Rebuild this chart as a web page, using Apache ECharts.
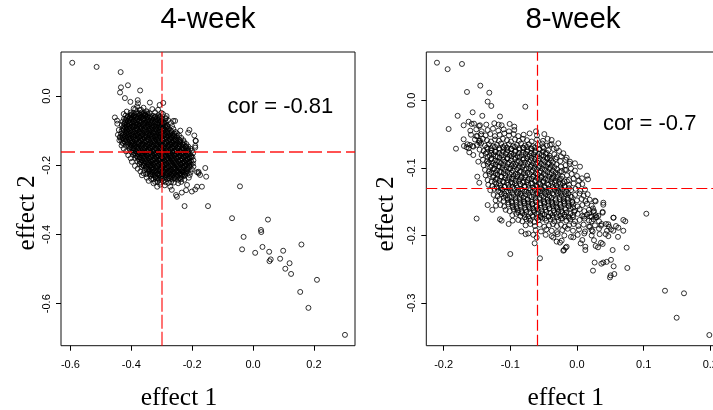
<!DOCTYPE html>
<html>
<head>
<meta charset="utf-8">
<script src="https://cdn.jsdelivr.net/npm/echarts@6/dist/echarts.min.js"></script>
<style>
  html, body { margin: 0; padding: 0; background: #fff; }
  #chart { width: 713px; height: 410px; }
</style>
</head>
<body>
<div id="chart"></div>
<script>
// Panel titles and annotation texts
const panelTitles = ['4-week', '8-week'];
const corLabels = ['cor = -0.81', 'cor = -0.7'];
const corPos4 = [0.09, -0.031];
const corPos8 = [0.109, -0.035];

// Tick values
const xTicks4 = [-0.6, -0.4, -0.2, 0, 0.2];
const yTicks4 = [-0.6, -0.4, -0.2, 0];
const xTicks8 = [-0.2, -0.1, 0, 0.1, 0.2];
const yTicks8 = [-0.3, -0.2, -0.1, 0];

// Mean of each effect (dashed reference lines)
const mean4 = { effect1: -0.303, effect2: -0.1635 };
const mean8 = { effect1: -0.0625, effect2: -0.128 };

// 4-week estimates: [effect 1, effect 2]
const week4Points = [
  // spread-out points
  [-.594,.096],[-.514,.084],[-.435,.069],[-.434,.025],[-.411,.031],[-.437,.010],[-.371,.016],[-.421,-.006],
  [-.403,-.017],[-.379,-.012],[-.378,-.021],[-.387,-.038],[-.368,-.040],[-.339,-.019],[-.307,-.026],[-.295,-.020],
  [-.355,-.053],[-.364,-.059],[-.454,-.062],[-.447,-.071],[-.402,-.056],[-.288,-.066],[-.262,-.072],[-.209,-.098],
  [-.189,-.129],[-.190,-.149],[-.437,-.120],[-.430,-.135],[-.204,-.173],[-.286,-.064],[-.256,-.072],[-.239,-.100],
  [-.043,-.261],[-.225,-.318],[-.148,-.318],[-.069,-.353],[.049,-.357],[.026,-.387],[.027,-.393],[-.031,-.407],
  [-.036,-.443],[.007,-.453],[.031,-.436],[.053,-.450],[.099,-.447],[.159,-.429],[.054,-.477],[.058,-.472],
  [.089,-.470],[.120,-.483],[.106,-.499],[.125,-.514],[.210,-.531],[.155,-.566],[.182,-.612],[.302,-.690],
  // edge of the cloud
  [-.446,-.080],[-.441,-.098],[-.444,-.112],[-.439,-.128],[-.432,-.143],[-.425,-.152],[-.417,-.160],[-.410,-.171],
  [-.402,-.180],[-.398,-.190],[-.392,-.036],[-.381,-.030],[-.372,-.041],[-.360,-.034],[-.350,-.044],[-.331,-.038],
  [-.322,-.047],[-.312,-.040],[-.301,-.049],[-.415,-.045],[-.425,-.052],[-.296,-.052],[-.284,-.058],[-.279,-.070],
  [-.270,-.078],[-.266,-.087],[-.262,-.095],[-.255,-.104],[-.250,-.108],[-.243,-.114],[-.236,-.121],[-.229,-.128],
  [-.226,-.134],[-.219,-.139],[-.213,-.146],[-.206,-.152],[-.201,-.158],[-.197,-.165],[-.199,-.176],[-.196,-.186],
  [-.198,-.195],[-.196,-.204],[-.201,-.212],[-.205,-.220],[-.360,-.223],[-.351,-.226],[-.338,-.226],[-.322,-.248],
  [-.334,-.240],[-.305,-.256],[-.290,-.258],[-.272,-.262],[-.267,-.271],[-.253,-.286],[-.250,-.291],[-.234,-.279],
  [-.220,-.272],[-.201,-.276],[-.190,-.270],[-.168,-.262],[-.184,-.262],[-.217,-.257],[-.236,-.248],[-.246,-.252],
  [-.226,-.242],[-.211,-.236],[-.208,-.228],[-.184,-.220],[-.179,-.223],[-.154,-.233],[-.157,-.208],[-.174,-.228],
  [-.179,-.219],[-.188,-.130],[-.190,-.144],[-.193,-.114],[-.213,-.106],[-.388,-.202],[-.379,-.210],[-.370,-.218],
  [-.365,-.229],[-.349,-.236],[-.343,-.245],[-.327,-.252],[-.315,-.262],
  // dense centre
  [-.402,-.048],[-.393,-.050],[-.384,-.047],[-.375,-.050],[-.366,-.048],[-.357,-.050],[-.348,-.047],[-.340,-.050],
  [-.419,-.057],[-.410,-.059],[-.401,-.056],[-.392,-.058],[-.383,-.059],[-.374,-.057],[-.365,-.059],[-.356,-.056],
  [-.347,-.058],[-.338,-.059],[-.329,-.057],[-.320,-.059],[-.311,-.056],[-.306,-.059],
  [-.424,-.066],[-.415,-.065],[-.406,-.067],[-.397,-.065],[-.388,-.068],[-.379,-.066],[-.370,-.064],[-.361,-.067],
  [-.352,-.065],[-.343,-.068],[-.334,-.066],[-.325,-.064],[-.316,-.067],[-.307,-.065],[-.298,-.067],
  [-.428,-.074],[-.420,-.076],[-.411,-.073],[-.402,-.076],[-.393,-.074],[-.384,-.076],[-.375,-.073],[-.366,-.075],
  [-.357,-.077],[-.348,-.074],[-.339,-.076],[-.330,-.073],[-.321,-.075],[-.312,-.077],[-.303,-.074],[-.294,-.076],[-.288,-.073],
  [-.431,-.084],[-.423,-.082],[-.414,-.085],[-.405,-.083],[-.396,-.086],[-.387,-.084],[-.378,-.082],[-.369,-.085],
  [-.360,-.083],[-.351,-.085],[-.342,-.082],[-.333,-.084],[-.324,-.086],[-.315,-.083],[-.306,-.085],[-.297,-.082],
  [-.288,-.084],[-.281,-.086],
  [-.429,-.093],[-.420,-.091],[-.411,-.094],[-.402,-.092],[-.393,-.090],[-.384,-.093],[-.375,-.091],[-.366,-.094],
  [-.357,-.092],[-.348,-.090],[-.339,-.093],[-.330,-.091],[-.321,-.094],[-.312,-.092],[-.303,-.090],[-.294,-.093],
  [-.285,-.091],[-.277,-.094],
  [-.432,-.101],[-.424,-.099],[-.415,-.102],[-.406,-.100],[-.397,-.103],[-.388,-.101],[-.379,-.099],[-.370,-.102],
  [-.361,-.100],[-.352,-.103],[-.343,-.101],[-.334,-.099],[-.325,-.102],[-.316,-.100],[-.307,-.103],[-.298,-.101],
  [-.289,-.099],[-.280,-.102],[-.271,-.100],
  [-.434,-.109],[-.426,-.111],[-.417,-.108],[-.408,-.110],[-.399,-.112],[-.390,-.109],[-.381,-.111],[-.372,-.108],
  [-.363,-.110],[-.354,-.112],[-.345,-.109],[-.336,-.111],[-.327,-.108],[-.318,-.110],[-.309,-.112],[-.300,-.109],
  [-.291,-.111],[-.282,-.108],[-.273,-.110],[-.264,-.112],[-.259,-.109],
  [-.437,-.118],[-.429,-.120],[-.420,-.117],[-.411,-.119],[-.402,-.121],[-.393,-.118],[-.384,-.116],[-.375,-.119],
  [-.366,-.117],[-.357,-.120],[-.348,-.118],[-.339,-.116],[-.330,-.119],[-.321,-.117],[-.312,-.120],[-.303,-.118],
  [-.294,-.116],[-.285,-.119],[-.276,-.117],[-.267,-.120],[-.258,-.118],[-.250,-.116],
  [-.433,-.127],[-.424,-.125],[-.415,-.128],[-.406,-.126],[-.397,-.129],[-.388,-.127],[-.379,-.125],[-.370,-.128],
  [-.361,-.126],[-.352,-.129],[-.343,-.127],[-.334,-.125],[-.325,-.128],[-.316,-.126],[-.307,-.129],[-.298,-.127],
  [-.289,-.125],[-.280,-.128],[-.271,-.126],[-.262,-.129],[-.253,-.127],[-.244,-.125],[-.239,-.128],
  [-.427,-.136],[-.419,-.134],[-.410,-.137],[-.401,-.135],[-.392,-.138],[-.383,-.136],[-.374,-.134],[-.365,-.137],
  [-.356,-.135],[-.347,-.138],[-.338,-.136],[-.329,-.134],[-.320,-.137],[-.311,-.135],[-.302,-.138],[-.293,-.136],
  [-.284,-.134],[-.275,-.137],[-.266,-.135],[-.257,-.138],[-.248,-.136],[-.239,-.134],[-.231,-.137],
  [-.417,-.144],[-.408,-.146],[-.399,-.143],[-.390,-.145],[-.381,-.147],[-.372,-.144],[-.363,-.142],[-.354,-.145],
  [-.345,-.143],[-.336,-.146],[-.327,-.144],[-.318,-.142],[-.309,-.145],[-.300,-.143],[-.291,-.146],[-.282,-.144],
  [-.273,-.142],[-.264,-.145],[-.255,-.143],[-.246,-.146],[-.237,-.144],[-.228,-.142],[-.221,-.145],
  [-.406,-.153],[-.398,-.151],[-.389,-.154],[-.380,-.152],[-.371,-.155],[-.362,-.153],[-.353,-.151],[-.344,-.154],
  [-.335,-.152],[-.326,-.155],[-.317,-.153],[-.308,-.151],[-.299,-.154],[-.290,-.152],[-.281,-.155],[-.272,-.153],
  [-.263,-.151],[-.254,-.154],[-.245,-.152],[-.236,-.155],[-.227,-.153],[-.218,-.151],[-.213,-.154],
  [-.400,-.162],[-.392,-.164],[-.383,-.161],[-.374,-.163],[-.365,-.165],[-.356,-.162],[-.347,-.160],[-.338,-.163],
  [-.329,-.161],[-.320,-.164],[-.311,-.162],[-.302,-.160],[-.293,-.163],[-.284,-.161],[-.275,-.164],[-.266,-.162],
  [-.257,-.160],[-.248,-.163],[-.239,-.161],[-.230,-.164],[-.221,-.162],[-.212,-.160],
  [-.394,-.170],[-.386,-.172],[-.377,-.169],[-.368,-.171],[-.359,-.173],[-.350,-.170],[-.341,-.168],[-.332,-.171],
  [-.323,-.169],[-.314,-.172],[-.305,-.170],[-.296,-.168],[-.287,-.171],[-.278,-.169],[-.269,-.172],[-.260,-.170],
  [-.251,-.168],[-.242,-.171],[-.233,-.169],[-.224,-.172],[-.215,-.170],[-.207,-.168],
  [-.387,-.179],[-.379,-.177],[-.370,-.180],[-.361,-.178],[-.352,-.181],[-.343,-.179],[-.334,-.177],[-.325,-.180],
  [-.316,-.178],[-.307,-.181],[-.298,-.179],[-.289,-.177],[-.280,-.180],[-.271,-.178],[-.262,-.181],[-.253,-.179],
  [-.244,-.177],[-.235,-.180],[-.226,-.178],[-.217,-.181],[-.208,-.179],[-.203,-.177],
  [-.380,-.188],[-.372,-.190],[-.363,-.187],[-.354,-.189],[-.345,-.191],[-.336,-.188],[-.327,-.186],[-.318,-.189],
  [-.309,-.187],[-.300,-.190],[-.291,-.188],[-.282,-.186],[-.273,-.189],[-.264,-.187],[-.255,-.190],[-.246,-.188],
  [-.237,-.186],[-.228,-.189],[-.219,-.187],[-.210,-.190],[-.204,-.188],
  [-.373,-.196],[-.365,-.198],[-.356,-.195],[-.347,-.197],[-.338,-.199],[-.329,-.196],[-.320,-.194],[-.311,-.197],
  [-.302,-.195],[-.293,-.198],[-.284,-.196],[-.275,-.194],[-.266,-.197],[-.257,-.195],[-.248,-.198],[-.239,-.196],
  [-.230,-.194],[-.221,-.197],[-.212,-.195],[-.204,-.198],
  [-.367,-.205],[-.359,-.203],[-.350,-.206],[-.341,-.204],[-.332,-.207],[-.323,-.205],[-.314,-.203],[-.305,-.206],
  [-.296,-.204],[-.287,-.207],[-.278,-.205],[-.269,-.203],[-.260,-.206],[-.251,-.204],[-.242,-.207],[-.233,-.205],
  [-.224,-.203],[-.215,-.206],[-.207,-.204],
  [-.357,-.214],[-.349,-.212],[-.340,-.215],[-.331,-.213],[-.322,-.216],[-.313,-.214],[-.304,-.212],[-.295,-.215],
  [-.286,-.213],[-.277,-.216],[-.268,-.214],[-.259,-.212],[-.250,-.215],[-.241,-.213],[-.232,-.216],[-.223,-.214],[-.214,-.212],
  [-.347,-.222],[-.339,-.224],[-.330,-.221],[-.321,-.223],[-.312,-.225],[-.303,-.222],[-.294,-.220],[-.285,-.223],
  [-.276,-.221],[-.267,-.224],[-.258,-.222],[-.249,-.220],[-.240,-.223],[-.231,-.221],[-.222,-.224],[-.215,-.222],
  [-.337,-.231],[-.329,-.229],[-.320,-.232],[-.311,-.230],[-.302,-.233],[-.293,-.231],[-.284,-.229],[-.275,-.232],
  [-.266,-.230],[-.257,-.233],[-.248,-.231],[-.239,-.229],[-.230,-.232],[-.224,-.230],
  [-.327,-.240],[-.318,-.238],[-.309,-.241],[-.300,-.239],[-.291,-.242],[-.282,-.240],[-.273,-.238],[-.264,-.241],
  [-.255,-.239],[-.246,-.242],[-.237,-.240],
  [-.314,-.248],[-.305,-.250],[-.296,-.247],[-.287,-.249],[-.278,-.251],[-.269,-.248],[-.260,-.250],
  [-.400,-.053],[-.391,-.055],[-.382,-.052],[-.373,-.054],[-.364,-.053],[-.355,-.055],[-.346,-.052],
  [-.413,-.062],[-.404,-.063],[-.395,-.061],[-.386,-.063],[-.377,-.061],[-.368,-.062],[-.359,-.064],[-.350,-.061],
  [-.341,-.063],[-.332,-.062],[-.323,-.061],[-.314,-.063],[-.307,-.062],
  [-.419,-.070],[-.410,-.072],[-.401,-.069],[-.392,-.071],[-.383,-.070],[-.374,-.072],[-.365,-.069],[-.356,-.071],
  [-.347,-.070],[-.338,-.072],[-.329,-.069],[-.320,-.071],[-.311,-.070],[-.302,-.072],
  [-.423,-.079],[-.414,-.081],[-.405,-.078],[-.396,-.080],[-.387,-.079],[-.378,-.081],[-.369,-.078],[-.360,-.080],
  [-.351,-.079],[-.342,-.081],[-.333,-.078],[-.324,-.080],[-.315,-.079],[-.306,-.081],[-.297,-.078],[-.291,-.080],
  [-.424,-.088],[-.415,-.089],[-.406,-.087],[-.397,-.089],[-.388,-.087],[-.379,-.088],[-.370,-.090],[-.361,-.087],
  [-.352,-.089],[-.343,-.088],[-.334,-.087],[-.325,-.089],[-.316,-.088],[-.307,-.090],[-.298,-.087],[-.289,-.089],[-.283,-.088],
  [-.425,-.096],[-.416,-.098],[-.407,-.095],[-.398,-.097],[-.389,-.096],[-.380,-.098],[-.371,-.095],[-.362,-.097],
  [-.353,-.096],[-.344,-.098],[-.335,-.095],[-.326,-.097],[-.317,-.096],[-.308,-.098],[-.299,-.095],[-.290,-.097],[-.281,-.096],
  [-.426,-.105],[-.417,-.107],[-.408,-.104],[-.399,-.106],[-.390,-.105],[-.381,-.107],[-.372,-.104],[-.363,-.106],
  [-.354,-.105],[-.345,-.107],[-.336,-.104],[-.327,-.106],[-.318,-.105],[-.309,-.107],[-.300,-.104],[-.291,-.106],
  [-.282,-.105],[-.273,-.107],[-.267,-.104],
  [-.429,-.114],[-.420,-.115],[-.411,-.113],[-.402,-.115],[-.393,-.113],[-.384,-.114],[-.375,-.116],[-.366,-.113],
  [-.357,-.115],[-.348,-.114],[-.339,-.113],[-.330,-.115],[-.321,-.114],[-.312,-.116],[-.303,-.113],[-.294,-.115],
  [-.285,-.114],[-.276,-.113],[-.267,-.115],[-.258,-.114],
  [-.428,-.122],[-.419,-.124],[-.410,-.121],[-.401,-.123],[-.392,-.122],[-.383,-.124],[-.374,-.121],[-.365,-.123],
  [-.356,-.122],[-.347,-.124],[-.338,-.121],[-.329,-.123],[-.320,-.122],[-.311,-.124],[-.302,-.121],[-.293,-.123],
  [-.284,-.122],[-.275,-.124],[-.266,-.121],[-.257,-.123],[-.248,-.122],
  [-.422,-.131],[-.413,-.133],[-.404,-.130],[-.395,-.132],[-.386,-.131],[-.377,-.133],[-.368,-.130],[-.359,-.132],
  [-.350,-.131],[-.341,-.133],[-.332,-.130],[-.323,-.132],[-.314,-.131],[-.305,-.133],[-.296,-.130],[-.287,-.132],
  [-.278,-.131],[-.269,-.133],[-.260,-.130],[-.251,-.132],[-.242,-.131],
  [-.412,-.140],[-.403,-.141],[-.394,-.139],[-.385,-.141],[-.376,-.139],[-.367,-.140],[-.358,-.142],[-.349,-.139],
  [-.340,-.141],[-.331,-.140],[-.322,-.139],[-.313,-.141],[-.304,-.140],[-.295,-.142],[-.286,-.139],[-.277,-.141],
  [-.268,-.140],[-.259,-.139],[-.250,-.141],[-.241,-.140],[-.232,-.139],
  [-.402,-.148],[-.393,-.150],[-.384,-.147],[-.375,-.149],[-.366,-.148],[-.357,-.150],[-.348,-.147],[-.339,-.149],
  [-.330,-.148],[-.321,-.150],[-.312,-.147],[-.303,-.149],[-.294,-.148],[-.285,-.150],[-.276,-.147],[-.267,-.149],
  [-.258,-.148],[-.249,-.150],[-.240,-.147],[-.231,-.149],[-.222,-.148],
  [-.395,-.157],[-.386,-.159],[-.377,-.156],[-.368,-.158],[-.359,-.157],[-.350,-.159],[-.341,-.156],[-.332,-.158],
  [-.323,-.157],[-.314,-.159],[-.305,-.156],[-.296,-.158],[-.287,-.157],[-.278,-.159],[-.269,-.156],[-.260,-.158],
  [-.251,-.157],[-.242,-.159],[-.233,-.156],[-.224,-.158],[-.216,-.157],
  [-.388,-.166],[-.379,-.167],[-.370,-.165],[-.361,-.167],[-.352,-.165],[-.343,-.166],[-.334,-.168],[-.325,-.165],
  [-.316,-.167],[-.307,-.166],[-.298,-.165],[-.289,-.167],[-.280,-.166],[-.271,-.168],[-.262,-.165],[-.253,-.167],
  [-.244,-.166],[-.235,-.165],[-.226,-.167],[-.217,-.166],
  [-.381,-.174],[-.372,-.176],[-.363,-.173],[-.354,-.175],[-.345,-.174],[-.336,-.176],[-.327,-.173],[-.318,-.175],
  [-.309,-.174],[-.300,-.176],[-.291,-.173],[-.282,-.175],[-.273,-.174],[-.264,-.176],[-.255,-.173],[-.246,-.175],
  [-.237,-.174],[-.228,-.176],[-.219,-.173],[-.210,-.175],
  [-.375,-.183],[-.366,-.185],[-.357,-.182],[-.348,-.184],[-.339,-.183],[-.330,-.185],[-.321,-.182],[-.312,-.184],
  [-.303,-.183],[-.294,-.185],[-.285,-.182],[-.276,-.184],[-.267,-.183],[-.258,-.185],[-.249,-.182],[-.240,-.184],
  [-.231,-.183],[-.222,-.185],[-.213,-.182],
  [-.368,-.192],[-.359,-.193],[-.350,-.191],[-.341,-.193],[-.332,-.191],[-.323,-.192],[-.314,-.194],[-.305,-.191],
  [-.296,-.193],[-.287,-.192],[-.278,-.191],[-.269,-.193],[-.260,-.192],[-.251,-.194],[-.242,-.191],[-.233,-.193],
  [-.224,-.192],[-.215,-.191],[-.208,-.193],
  [-.361,-.200],[-.352,-.202],[-.343,-.199],[-.334,-.201],[-.325,-.200],[-.316,-.202],[-.307,-.199],[-.298,-.201],
  [-.289,-.200],[-.280,-.202],[-.271,-.199],[-.262,-.201],[-.253,-.200],[-.244,-.202],[-.235,-.199],[-.226,-.201],
  [-.217,-.200],[-.210,-.202],
  [-.352,-.209],[-.343,-.211],[-.334,-.208],[-.325,-.210],[-.316,-.209],[-.307,-.211],[-.298,-.208],[-.289,-.210],
  [-.280,-.209],[-.271,-.211],[-.262,-.208],[-.253,-.210],[-.244,-.209],[-.235,-.211],[-.226,-.208],[-.217,-.210],
  [-.342,-.218],[-.333,-.219],[-.324,-.217],[-.315,-.219],[-.306,-.217],[-.297,-.218],[-.288,-.220],[-.279,-.217],
  [-.270,-.219],[-.261,-.218],[-.252,-.217],[-.243,-.219],[-.234,-.218],[-.225,-.220],[-.218,-.217],
  [-.332,-.226],[-.323,-.228],[-.314,-.225],[-.305,-.227],[-.296,-.226],[-.287,-.228],[-.278,-.225],[-.269,-.227],
  [-.260,-.226],[-.251,-.228],[-.242,-.225],[-.233,-.227],[-.226,-.226],
  [-.321,-.235],[-.312,-.237],[-.303,-.234],[-.294,-.236],[-.285,-.235],[-.276,-.237],[-.267,-.234],[-.258,-.236],
  [-.249,-.235],[-.240,-.237]
];

// 8-week estimates: [effect 1, effect 2]
const week8Points = [
  // spread-out points
  [-.210,.0556],[-.194,.046],[-.1725,.0537],[-.145,.0216],[-.165,.0123],[-.1315,.0112],[-.134,-.002],[-.1285,-.0084],
  [-.0775,-.0095],[-.1565,-.0178],[-.179,-.023],[-.142,-.023],[-.1155,-.024],[-.1625,-.0317],[-.1545,-.0346],[-.1455,-.037],
  [-.1175,-.036],[-.1925,-.0425],[-.0615,-.0459],[-.170,-.0577],[-.1495,-.053],[-.1815,-.0716],[-.0405,-.0854],[-.0305,-.0843],
  [-.0155,-.0849],[-.1695,-.0676],[-.1645,-.0651],[-.1625,-.071],[-.1615,-.077],[-.1555,-.0686],[-.1555,-.081],[-.148,-.0908],
  [-.1495,-.113],[-.1465,-.122],[-.1505,-.175],[-.134,-.155],[-.127,-.162],[-.1215,-.156],[-.1155,-.176],[-.113,-.178],
  [-.1025,-.183],[-.0965,-.178],[-.100,-.2274],[-.0835,-.194],[-.077,-.198],[-.073,-.197],[-.0655,-.199],[-.0605,-.203],
  [-.0635,-.2115],[-.0555,-.2337],[-.0355,-.203],[-.0305,-.209],[-.0255,-.2105],[-.0205,-.2225],[-.017,-.218],
  [.104,-.1678],[.132,-.2817],[.1605,-.2855],[.1495,-.3216],[.1985,-.3472],[.0745,-.218],[.0755,-.248],[.055,-.1737],
  [.0695,-.177],[.0725,-.179],[.0695,-.193],[.0615,-.202],[.0535,-.2215],[.051,-.236],[.0445,-.239],[.0395,-.240],
  [.0365,-.2417],[.055,-.2456],[.056,-.257],[.0505,-.259],[.0495,-.262],[.0265,-.240],[.024,-.252],
  [.043,-.198],[.036,-.2107],[.0385,-.2126],[.0315,-.2175],[.028,-.2155],[.0255,-.207],[.0125,-.2215],[.0125,-.2166],
  [.0055,-.2116],[.008,-.2067],[.0435,-.183],[.048,-.187],[.0545,-.193],[.0585,-.186],[.0395,-.1545],[.028,-.1495],
  [.0385,-.1663],[.0285,-.173],[.032,-.171],[.0245,-.165],[.0185,-.167],[.0105,-.172],[.022,-.179],[.0195,-.187],
  [.0235,-.194],[-.0055,-.2027],[-.0155,-.2166],[-.0195,-.2215],[-.023,-.2077],[.0075,-.1154],[.0165,-.1169],[.015,-.1115],
  [.027,-.1485],[.0395,-.1515],[.0385,-.165],[.0545,-.1737],[.062,-.1885],[.047,-.1834],[.051,-.191],[.036,-.1855],
  [.0295,-.173],[.0195,-.172],[.0255,-.1638],[-.003,-.0932],[.0045,-.0982],[-.0105,-.0908],[-.018,-.103],
  [-.0305,-.071],[-.0205,-.0784],[-.028,-.0636],[-.038,-.0587],[-.0405,-.066],
  [-.1655,-.0695],[-.1605,-.066],[-.1565,-.0676],[-.1465,-.0627],[-.1455,-.0598],
  // main cloud
  [-.170,-.037],[-.158,-.035],[-.147,-.038],[-.136,-.036],[-.124,-.034],[-.113,-.037],[-.101,-.035],[-.094,-.039],
  [-.160,-.045],[-.151,-.043],[-.143,-.046],[-.134,-.044],[-.126,-.042],[-.118,-.045],[-.110,-.043],[-.102,-.046],[-.094,-.044],
  [-.159,-.051],[-.151,-.053],[-.144,-.050],[-.137,-.052],[-.130,-.050],[-.123,-.053],[-.116,-.051],[-.109,-.049],
  [-.102,-.052],[-.095,-.050],[-.088,-.053],[-.080,-.051],[-.071,-.049],[-.060,-.052],[-.049,-.050],
  [-.153,-.058],[-.147,-.060],[-.141,-.057],[-.135,-.059],[-.129,-.061],[-.123,-.058],[-.117,-.060],[-.111,-.057],
  [-.105,-.059],[-.099,-.061],[-.093,-.058],[-.087,-.060],[-.081,-.057],[-.075,-.059],[-.068,-.061],[-.060,-.058],
  [-.051,-.060],[-.044,-.057],
  [-.150,-.066],[-.144,-.064],[-.138,-.067],[-.132,-.065],[-.126,-.068],[-.120,-.066],[-.114,-.064],[-.108,-.067],
  [-.102,-.065],[-.096,-.068],[-.090,-.066],[-.084,-.064],[-.078,-.067],[-.072,-.065],[-.066,-.068],[-.059,-.066],
  [-.052,-.064],[-.045,-.067],[-.038,-.065],
  [-.146,-.073],[-.140,-.075],[-.134,-.072],[-.128,-.074],[-.122,-.076],[-.116,-.073],[-.110,-.071],[-.104,-.074],
  [-.098,-.072],[-.092,-.075],[-.086,-.073],[-.080,-.071],[-.074,-.074],[-.068,-.072],[-.062,-.075],[-.056,-.073],
  [-.050,-.071],[-.043,-.074],[-.035,-.072],[-.027,-.075],
  [-.143,-.081],[-.137,-.079],[-.131,-.082],[-.125,-.080],[-.119,-.083],[-.113,-.081],[-.107,-.079],[-.101,-.082],
  [-.095,-.080],[-.089,-.083],[-.083,-.081],[-.077,-.079],[-.071,-.082],[-.065,-.080],[-.059,-.083],[-.053,-.081],
  [-.047,-.079],[-.041,-.082],[-.034,-.080],[-.024,-.083],
  [-.141,-.088],[-.135,-.090],[-.129,-.087],[-.123,-.089],[-.117,-.091],[-.111,-.088],[-.105,-.086],[-.099,-.089],
  [-.093,-.087],[-.087,-.090],[-.081,-.088],[-.075,-.086],[-.069,-.089],[-.063,-.087],[-.057,-.090],[-.051,-.088],
  [-.045,-.086],[-.039,-.089],[-.032,-.087],[-.025,-.090],[-.017,-.088],
  [-.140,-.096],[-.134,-.094],[-.128,-.097],[-.122,-.095],[-.116,-.098],[-.110,-.096],[-.104,-.094],[-.098,-.097],
  [-.092,-.095],[-.086,-.098],[-.080,-.096],[-.074,-.094],[-.068,-.097],[-.062,-.095],[-.056,-.098],[-.050,-.096],
  [-.044,-.094],[-.038,-.097],[-.031,-.095],[-.024,-.098],[-.017,-.096],[-.011,-.094],
  [-.138,-.103],[-.132,-.105],[-.126,-.102],[-.120,-.104],[-.114,-.106],[-.108,-.103],[-.102,-.101],[-.096,-.104],
  [-.090,-.102],[-.084,-.105],[-.078,-.103],[-.072,-.101],[-.066,-.104],[-.060,-.102],[-.054,-.105],[-.048,-.103],
  [-.042,-.101],[-.036,-.104],[-.030,-.102],[-.023,-.105],[-.016,-.103],[-.009,-.101],[-.003,-.104],
  [-.137,-.111],[-.131,-.109],[-.125,-.112],[-.119,-.110],[-.113,-.113],[-.107,-.111],[-.101,-.109],[-.095,-.112],
  [-.089,-.110],[-.083,-.113],[-.077,-.111],[-.071,-.109],[-.065,-.112],[-.059,-.110],[-.053,-.113],[-.047,-.111],
  [-.041,-.109],[-.035,-.112],[-.029,-.110],[-.022,-.113],[-.015,-.111],[-.008,-.109],[.000,-.112],
  [-.134,-.118],[-.128,-.120],[-.122,-.117],[-.116,-.119],[-.110,-.121],[-.104,-.118],[-.098,-.116],[-.092,-.119],
  [-.086,-.117],[-.080,-.120],[-.074,-.118],[-.068,-.116],[-.062,-.119],[-.056,-.117],[-.050,-.120],[-.044,-.118],
  [-.038,-.116],[-.032,-.119],[-.026,-.117],[-.019,-.120],[-.012,-.118],[-.005,-.116],[.003,-.119],
  [-.133,-.125],[-.127,-.127],[-.121,-.124],[-.115,-.126],[-.109,-.128],[-.103,-.125],[-.097,-.123],[-.091,-.126],
  [-.085,-.124],[-.079,-.127],[-.073,-.125],[-.067,-.123],[-.061,-.126],[-.055,-.124],[-.049,-.127],[-.043,-.125],
  [-.037,-.123],[-.031,-.126],[-.025,-.124],[-.019,-.127],[-.012,-.125],[-.005,-.123],[.002,-.126],[.008,-.124],
  [-.130,-.133],[-.124,-.131],[-.118,-.134],[-.112,-.132],[-.106,-.135],[-.100,-.133],[-.094,-.131],[-.088,-.134],
  [-.082,-.132],[-.076,-.135],[-.070,-.133],[-.064,-.131],[-.058,-.134],[-.052,-.132],[-.046,-.135],[-.040,-.133],
  [-.034,-.131],[-.028,-.134],[-.022,-.132],[-.016,-.135],[-.009,-.133],[-.002,-.131],[.005,-.134],[.012,-.132],
  [-.125,-.140],[-.119,-.142],[-.113,-.139],[-.107,-.141],[-.101,-.143],[-.095,-.140],[-.089,-.138],[-.083,-.141],
  [-.077,-.139],[-.071,-.142],[-.065,-.140],[-.059,-.138],[-.053,-.141],[-.047,-.139],[-.041,-.142],[-.035,-.140],
  [-.029,-.138],[-.023,-.141],[-.017,-.139],[-.010,-.142],[-.003,-.140],[.004,-.138],[.010,-.141],[.016,-.139],
  [-.122,-.148],[-.116,-.146],[-.110,-.149],[-.104,-.147],[-.098,-.150],[-.092,-.148],[-.086,-.146],[-.080,-.149],
  [-.074,-.147],[-.068,-.150],[-.062,-.148],[-.056,-.146],[-.050,-.149],[-.044,-.147],[-.038,-.150],[-.032,-.148],
  [-.026,-.146],[-.020,-.149],[-.014,-.147],[-.007,-.150],[.000,-.148],[.007,-.146],[.013,-.149],[.019,-.147],
  [-.115,-.155],[-.109,-.157],[-.103,-.154],[-.097,-.156],[-.091,-.158],[-.085,-.155],[-.079,-.153],[-.073,-.156],
  [-.067,-.154],[-.061,-.157],[-.055,-.155],[-.049,-.153],[-.043,-.156],[-.037,-.154],[-.031,-.157],[-.025,-.155],
  [-.019,-.153],[-.013,-.156],[-.006,-.154],[.001,-.157],[.008,-.155],[.015,-.153],[.022,-.156],
  [-.107,-.162],[-.101,-.164],[-.095,-.161],[-.089,-.163],[-.083,-.165],[-.077,-.162],[-.071,-.160],[-.065,-.163],
  [-.059,-.161],[-.053,-.164],[-.047,-.162],[-.041,-.160],[-.035,-.163],[-.029,-.161],[-.023,-.164],[-.017,-.162],
  [-.010,-.160],[-.003,-.163],[.004,-.161],[.011,-.164],[.018,-.162],[.024,-.160],
  [-.097,-.170],[-.091,-.168],[-.085,-.171],[-.079,-.169],[-.073,-.172],[-.067,-.170],[-.061,-.168],[-.055,-.171],
  [-.049,-.169],[-.043,-.172],[-.037,-.170],[-.031,-.168],[-.025,-.171],[-.019,-.169],[-.013,-.172],[-.006,-.170],
  [.001,-.168],[.008,-.171],[.015,-.169],[.022,-.172],[.028,-.170],
  [-.088,-.177],[-.082,-.179],[-.076,-.176],[-.070,-.178],[-.064,-.180],[-.058,-.177],[-.052,-.175],[-.046,-.178],
  [-.040,-.176],[-.034,-.179],[-.028,-.177],[-.022,-.175],[-.016,-.178],[-.010,-.176],[-.003,-.179],[.004,-.177],
  [.011,-.175],[.018,-.178],[.025,-.176],[.033,-.179],
  [-.077,-.185],[-.070,-.183],[-.063,-.186],[-.056,-.184],[-.049,-.187],[-.042,-.185],[-.036,-.183],[-.030,-.186],
  [-.024,-.184],[-.018,-.187],[-.012,-.185],[-.005,-.183],[.002,-.186],[.010,-.184],[.018,-.187],[.027,-.185],[.037,-.183],
  [-.062,-.192],[-.054,-.194],[-.046,-.191],[-.038,-.193],[-.030,-.195],[-.022,-.192],[-.014,-.190],[-.006,-.193],
  [.003,-.191],[.012,-.194],[.022,-.192],[.033,-.190],[.045,-.193],
  [-.047,-.199],[-.038,-.201],[-.029,-.198],[-.019,-.200],[-.009,-.202],[.001,-.199],[.011,-.197],[.022,-.200],
  [.034,-.198],[.047,-.201],
  [-.135,-.070],[-.129,-.071],[-.123,-.069],[-.117,-.071],[-.111,-.069],[-.105,-.070],[-.099,-.072],[-.093,-.069],
  [-.087,-.071],[-.081,-.070],[-.075,-.069],[-.069,-.071],[-.063,-.070],[-.057,-.072],[-.051,-.069],
  [-.135,-.077],[-.129,-.078],[-.123,-.076],[-.117,-.078],[-.111,-.076],[-.105,-.077],[-.099,-.079],[-.093,-.076],
  [-.087,-.078],[-.081,-.077],[-.075,-.076],[-.069,-.078],[-.063,-.077],[-.057,-.079],[-.051,-.076],[-.045,-.078],
  [-.134,-.084],[-.128,-.086],[-.122,-.083],[-.116,-.085],[-.110,-.084],[-.104,-.086],[-.098,-.083],[-.092,-.085],
  [-.086,-.084],[-.080,-.086],[-.074,-.083],[-.068,-.085],[-.062,-.084],[-.056,-.086],[-.050,-.083],[-.044,-.085],
  [-.132,-.092],[-.126,-.093],[-.120,-.091],[-.114,-.093],[-.108,-.091],[-.102,-.092],[-.096,-.094],[-.090,-.091],
  [-.084,-.093],[-.078,-.092],[-.072,-.091],[-.066,-.093],[-.060,-.092],[-.054,-.094],[-.048,-.091],[-.042,-.093],[-.036,-.092],
  [-.130,-.099],[-.124,-.101],[-.118,-.098],[-.112,-.100],[-.106,-.099],[-.100,-.101],[-.094,-.098],[-.088,-.100],
  [-.082,-.099],[-.076,-.101],[-.070,-.098],[-.064,-.100],[-.058,-.099],[-.052,-.101],[-.046,-.098],[-.040,-.100],[-.034,-.099],
  [-.128,-.107],[-.122,-.108],[-.116,-.106],[-.110,-.108],[-.104,-.106],[-.098,-.107],[-.092,-.109],[-.086,-.106],
  [-.080,-.108],[-.074,-.107],[-.068,-.106],[-.062,-.108],[-.056,-.107],[-.050,-.109],[-.044,-.106],[-.038,-.108],
  [-.032,-.107],[-.026,-.106],
  [-.126,-.114],[-.120,-.116],[-.114,-.113],[-.108,-.115],[-.102,-.114],[-.096,-.116],[-.090,-.113],[-.084,-.115],
  [-.078,-.114],[-.072,-.116],[-.066,-.113],[-.060,-.115],[-.054,-.114],[-.048,-.116],[-.042,-.113],[-.036,-.115],
  [-.030,-.114],[-.024,-.116],
  [-.123,-.121],[-.117,-.123],[-.111,-.120],[-.105,-.122],[-.099,-.121],[-.093,-.123],[-.087,-.120],[-.081,-.122],
  [-.075,-.121],[-.069,-.123],[-.063,-.120],[-.057,-.122],[-.051,-.121],[-.045,-.123],[-.039,-.120],[-.033,-.122],
  [-.027,-.121],[-.021,-.123],[-.015,-.120],
  [-.120,-.129],[-.114,-.130],[-.108,-.128],[-.102,-.130],[-.096,-.128],[-.090,-.129],[-.084,-.131],[-.078,-.128],
  [-.072,-.130],[-.066,-.129],[-.060,-.128],[-.054,-.130],[-.048,-.129],[-.042,-.131],[-.036,-.128],[-.030,-.130],
  [-.024,-.129],[-.018,-.128],[-.012,-.130],
  [-.115,-.136],[-.109,-.138],[-.103,-.135],[-.097,-.137],[-.091,-.136],[-.085,-.138],[-.079,-.135],[-.073,-.137],
  [-.067,-.136],[-.061,-.138],[-.055,-.135],[-.049,-.137],[-.043,-.136],[-.037,-.138],[-.031,-.135],[-.025,-.137],
  [-.019,-.136],[-.013,-.138],
  [-.110,-.144],[-.104,-.145],[-.098,-.143],[-.092,-.145],[-.086,-.143],[-.080,-.144],[-.074,-.146],[-.068,-.143],
  [-.062,-.145],[-.056,-.144],[-.050,-.143],[-.044,-.145],[-.038,-.144],[-.032,-.146],[-.026,-.143],[-.020,-.145],
  [-.014,-.144],[-.008,-.143],
  [-.103,-.151],[-.097,-.152],[-.091,-.150],[-.085,-.152],[-.079,-.150],[-.073,-.151],[-.067,-.153],[-.061,-.150],
  [-.055,-.152],[-.049,-.151],[-.043,-.150],[-.037,-.152],[-.031,-.151],[-.025,-.153],[-.019,-.150],[-.013,-.152],[-.007,-.151],
  [-.096,-.158],[-.090,-.160],[-.084,-.157],[-.078,-.159],[-.072,-.158],[-.066,-.160],[-.060,-.157],[-.054,-.159],
  [-.048,-.158],[-.042,-.160],[-.036,-.157],[-.030,-.159],[-.024,-.158],[-.018,-.160],[-.012,-.157],[-.006,-.159],
  [-.088,-.166],[-.082,-.167],[-.076,-.165],[-.070,-.167],[-.064,-.165],[-.058,-.166],[-.052,-.168],[-.046,-.165],
  [-.040,-.167],[-.034,-.166],[-.028,-.165],[-.022,-.167],[-.016,-.166],[-.010,-.168],[-.004,-.165],
  [-.078,-.173],[-.072,-.175],[-.066,-.172],[-.060,-.174],[-.054,-.173],[-.048,-.175],[-.042,-.172],[-.036,-.174],
  [-.030,-.173],[-.024,-.175],[-.018,-.172],[-.012,-.174],[-.006,-.173]
];

const SANS = 'Liberation Sans';
const SERIF = 'Liberation Serif';
const fmt = v => v.toFixed(1);

function xAxis(gridIndex, min, max, ticks, namePadding) {
  return {
    type: 'value', gridIndex, min, max,
    name: 'effect 1', nameLocation: 'middle', nameGap: 40,
    nameTextStyle: { fontFamily: SERIF, fontSize: 25.5, color: '#000', padding: namePadding },
    axisLine: { show: false, onZero: false },
    axisTick: { show: true, length: 5, customValues: ticks, lineStyle: { color: '#000', width: 1 } },
    axisLabel: { customValues: ticks, formatter: fmt, fontFamily: SANS, fontSize: 11, color: '#000', margin: 14 },
    splitLine: { show: false }
  };
}

function yAxis(gridIndex, min, max, ticks, nameGap, namePadding) {
  return {
    type: 'value', gridIndex, min, max,
    name: 'effect 2', nameLocation: 'middle', nameGap,
    nameTextStyle: { fontFamily: SERIF, fontSize: 25, color: '#000', padding: namePadding },
    axisLine: { show: false, onZero: false },
    axisTick: { show: true, length: 5, customValues: ticks, lineStyle: { color: '#000', width: 1 } },
    axisLabel: { customValues: ticks, formatter: fmt, rotate: 90, fontFamily: SANS, fontSize: 11, color: '#000', margin: 9 },
    splitLine: { show: false }
  };
}

function scatter(idx, data, meanLines, corPos, corText) {
  return {
    type: 'scatter', xAxisIndex: idx, yAxisIndex: idx, data,
    symbol: 'circle', symbolSize: 5,
    itemStyle: { color: 'rgba(0,0,0,0)', borderColor: '#000', borderWidth: 1 },
    emphasis: { disabled: true },
    silent: true,
    markLine: {
      silent: true, symbol: ['none', 'none'], label: { show: false }, animation: false,
      emphasis: { disabled: true },
      data: meanLines
    },
    markPoint: {
      silent: true, symbol: 'circle', symbolSize: 1,
      itemStyle: { color: 'rgba(0,0,0,0)' },
      label: { show: true, position: 'inside', formatter: corText, color: '#000', fontFamily: SANS, fontSize: 22 },
      data: [{ coord: corPos }]
    }
  };
}

const chart = echarts.init(document.getElementById('chart'));
chart.setOption({
  animation: false,
  backgroundColor: '#fff',
  title: [
    { text: panelTitles[0], left: 208, top: 4.5, padding: 0, textAlign: 'center',
      textStyle: { fontFamily: SANS, fontSize: 29.5, fontWeight: 'normal', color: '#000' } },
    { text: panelTitles[1], left: 573, top: 4.5, padding: 0, textAlign: 'center',
      textStyle: { fontFamily: SANS, fontSize: 29.5, fontWeight: 'normal', color: '#000' } }
  ],
  grid: [
    { left: 61, top: 52, width: 294, height: 293.7, show: true, borderColor: '#111', borderWidth: 1,
      backgroundColor: 'transparent', containLabel: false, outerBoundsMode: 'none' },
    { left: 426.3, top: 52, width: 293.9, height: 293.7, show: true, borderColor: '#111', borderWidth: 1,
      backgroundColor: 'transparent', containLabel: false, outerBoundsMode: 'none' }
  ],
  xAxis: [
    xAxis(0, -0.631, 0.335, xTicks4, [0, 58, 0, 0]),
    xAxis(1, -0.226, 0.2148, xTicks8, [0, 15, 0, 0])
  ],
  yAxis: [
    yAxis(0, -0.7213, 0.1271, yTicks4, 19, [0, 28, 0, 0]),
    yAxis(1, -0.363, 0.0714, yTicks8, 27, [0, 30, 0, 0])
  ],
  series: [
    scatter(0, week4Points, [
      { xAxis: mean4.effect1, lineStyle: { color: 'rgba(255,0,0,0.55)', width: 2, type: [14, 3] } },
      { yAxis: mean4.effect2, lineStyle: { color: 'rgba(255,0,0,0.9)', width: 1.5, type: [14, 5] } }
    ], corPos4, corLabels[0]),
    scatter(1, week8Points, [
      { xAxis: mean8.effect1, lineStyle: { color: '#ff0000', width: 1.2, type: [11, 4] } },
      { yAxis: mean8.effect2, lineStyle: { color: '#ff0000', width: 1.2, type: [11, 4] } }
    ], corPos8, corLabels[1])
  ]
});
</script>
</body>
</html>
